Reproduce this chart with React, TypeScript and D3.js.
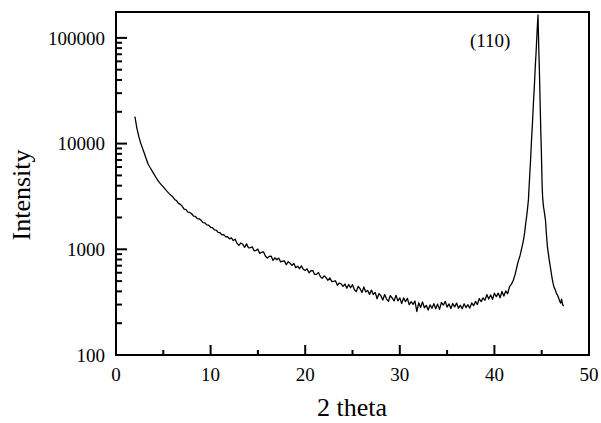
import React from "react";
import * as d3 from "d3";

// Scan: [2theta (deg), intensity (counts)]
const scan: [number, number][] = [
  [2.0, 18000], [2.2, 14100], [2.4, 11750], [2.6, 10160], [2.8, 9060], [3.0, 8050], [3.2, 7160], [3.4, 6380],
  [3.6, 5940], [3.8, 5550], [4.0, 5180], [4.2, 4830], [4.4, 4510], [4.6, 4280], [4.8, 4075], [5.0, 3890],
  [5.2, 3710], [5.4, 3530], [5.6, 3380], [5.8, 3245], [6.0, 3140], [6.2, 2960], [6.4, 2890], [6.6, 2720],
  [6.8, 2660], [7.0, 2550], [7.2, 2400], [7.4, 2370], [7.6, 2250], [7.8, 2230], [8.0, 2170], [8.2, 2060],
  [8.4, 2045], [8.6, 1950], [8.8, 1940], [9.0, 1880], [9.2, 1790], [9.4, 1780], [9.6, 1700], [9.8, 1690],
  [10.0, 1615], [10.2, 1600], [10.4, 1525], [10.6, 1515], [10.8, 1445], [11.0, 1435], [11.2, 1370], [11.4, 1375],
  [11.6, 1310], [11.8, 1315], [12.0, 1255], [12.2, 1284], [12.4, 1210], [12.6, 1245], [12.8, 1137], [13.0, 1091],
  [13.2, 1148], [13.4, 1115], [13.6, 1045], [13.8, 1126], [14.0, 1033], [14.2, 1038], [14.4, 1054], [14.6, 967],
  [14.8, 976], [15.0, 1003], [15.2, 914], [15.4, 938], [15.6, 944], [15.8, 861], [16.0, 827], [16.2, 857],
  [16.4, 863], [16.6, 785], [16.8, 831], [17.0, 797], [17.2, 826], [17.4, 760], [17.6, 773], [17.8, 777],
  [18.0, 714], [18.2, 763], [18.4, 737], [18.6, 704], [18.8, 734], [19.0, 669], [19.2, 692], [19.4, 655],
  [19.6, 697], [19.8, 648], [20.0, 631], [20.2, 653], [20.4, 599], [20.6, 627], [20.8, 629], [21.0, 578],
  [21.2, 579], [21.4, 603], [21.6, 553], [21.8, 531], [22.0, 561], [22.2, 540], [22.4, 509], [22.6, 536],
  [22.8, 496], [23.0, 497], [23.2, 504], [23.4, 456], [23.6, 480], [23.8, 470], [24.0, 446], [24.2, 469],
  [24.4, 428], [24.6, 464], [24.8, 433], [25.0, 463], [25.2, 415], [25.4, 398], [25.6, 445], [25.8, 424],
  [26.0, 390], [26.2, 440], [26.4, 394], [26.6, 409], [26.8, 374], [27.0, 411], [27.2, 374], [27.4, 391],
  [27.6, 340], [27.8, 381], [28.0, 364], [28.2, 331], [28.4, 373], [28.6, 338], [28.8, 322], [29.0, 365],
  [29.2, 346], [29.4, 325], [29.6, 367], [29.8, 325], [30.0, 347], [30.2, 306], [30.4, 347], [30.6, 319],
  [30.8, 343], [31.0, 299], [31.2, 320], [31.4, 301], [31.6, 324], [31.8, 258], [32.0, 312], [32.2, 282],
  [32.4, 318], [32.6, 280], [32.8, 295], [33.0, 266], [33.2, 298], [33.4, 277], [33.6, 306], [33.8, 274],
  [34.0, 303], [34.2, 270], [34.4, 315], [34.6, 296], [34.8, 322], [35.0, 284], [35.2, 304], [35.4, 275],
  [35.6, 307], [35.8, 285], [36.0, 310], [36.2, 277], [36.4, 295], [36.6, 274], [36.8, 305], [37.0, 281],
  [37.2, 299], [37.4, 278], [37.6, 311], [37.8, 293], [38.0, 321], [38.2, 300], [38.4, 342], [38.6, 320],
  [38.8, 347], [39.0, 329], [39.2, 373], [39.4, 338], [39.6, 370], [39.8, 336], [40.0, 384], [40.2, 357],
  [40.4, 385], [40.6, 348], [40.8, 399], [41.0, 361], [41.2, 404], [41.4, 380], [41.6, 444], [41.8, 468],
  [42.0, 510], [42.1, 545], [42.2, 581], [42.3, 635], [42.4, 695], [42.5, 760], [42.6, 812], [42.7, 865],
  [42.8, 945], [42.9, 1035], [43.0, 1134], [43.1, 1265], [43.2, 1445], [43.3, 1725], [43.4, 2020], [43.5, 2410],
  [43.6, 2965], [43.65, 3660], [43.7, 4350], [43.75, 5360], [43.8, 6350], [43.85, 7840], [43.9, 9700], [43.95, 11970],
  [44.0, 14190], [44.05, 17500], [44.1, 21600], [44.15, 26700], [44.2, 31700], [44.25, 39100], [44.3, 48300], [44.35, 59700],
  [44.4, 70800], [44.45, 87500], [44.5, 108000], [44.55, 133000], [44.6, 158000], [44.61, 165000], [44.65, 115000], [44.7, 73800],
  [44.75, 51600], [44.8, 33000], [44.85, 21100], [44.9, 13550], [44.95, 9460], [45.0, 6070], [45.05, 3880], [45.1, 3100],
  [45.15, 2750], [45.2, 2500], [45.3, 2190], [45.4, 1880], [45.5, 1387], [45.6, 1067], [45.7, 916], [45.8, 787],
  [45.9, 692], [46.0, 607], [46.1, 532], [46.2, 478], [46.3, 439], [46.4, 420], [46.5, 397], [46.6, 376],
  [46.7, 364], [46.8, 345], [46.9, 323], [47.0, 310], [47.1, 337], [47.2, 303], [47.3, 290],
];

const xMajorTicks = [0, 10, 20, 30, 40, 50];
const xMinorTicks = [5, 15, 25, 35, 45];
const yMajorTicks = [100, 1000, 10000, 100000];
const yMinorTicks = [
  200, 300, 400, 500, 600, 700, 800, 900,
  2000, 3000, 4000, 5000, 6000, 7000, 8000, 9000,
  20000, 30000, 40000, 50000, 60000, 70000, 80000, 90000,
];
const peakLabel = "(110)";
const xTitle = "2 theta";
const yTitle = "Intensity";

export default function App() {
  const W = 601, H = 423;
  const left = 116, right = 589, top = 12, bottom = 355;
  const x = d3.scaleLinear().domain([0, 50]).range([left, right]);
  const y = d3.scaleLog().domain([100, Math.pow(10, 5.245)]).range([bottom, top]);
  const line = d3.line<[number, number]>().x((d) => x(d[0])).y((d) => y(d[1]));
  const font = "'Liberation Serif', 'Times New Roman', serif";

  return (
    <svg width={W} height={H} style={{ position: "absolute", left: 0, top: 0, background: "#fff" }}>
      <rect x={0} y={0} width={W} height={H} fill="#fff" />
      <path d={line(scan) || ""} fill="none" stroke="#000" strokeWidth={1.3} strokeLinejoin="round" />
      {/* frame */}
      <rect x={left} y={top} width={right - left} height={bottom - top} fill="none" stroke="#000" strokeWidth={2} />
      {/* x ticks */}
      {xMajorTicks.map((t) => (
        <g key={"xm" + t}>
          <line x1={x(t)} x2={x(t)} y1={bottom} y2={bottom - 10} stroke="#000" strokeWidth={2} />
          <text x={x(t)} y={381} textAnchor="middle" fontFamily={font} fontSize={19}>{t}</text>
        </g>
      ))}
      {xMinorTicks.map((t) => (
        <line key={"xn" + t} x1={x(t)} x2={x(t)} y1={bottom} y2={bottom - 5} stroke="#000" strokeWidth={2} />
      ))}
      {/* y ticks */}
      {yMajorTicks.map((t) => (
        <g key={"ym" + t}>
          <line x1={left} x2={left + 11} y1={y(t)} y2={y(t)} stroke="#000" strokeWidth={2} />
          <text x={105} y={y(t)} dy="0.35em" textAnchor="end" fontFamily={font} fontSize={19}>{t}</text>
        </g>
      ))}
      {yMinorTicks.map((t) => (
        <line key={"yn" + t} x1={left} x2={left + 6} y1={y(t)} y2={y(t)} stroke="#000" strokeWidth={2} />
      ))}
      <text x={470} y={47} fontFamily={font} fontSize={19}>{peakLabel}</text>
      <text x={352} y={416} textAnchor="middle" fontFamily={font} fontSize={26}>{xTitle}</text>
      <text transform="translate(30,195) rotate(-90)" textAnchor="middle" fontFamily={font} fontSize={26}>{yTitle}</text>
    </svg>
  );
}
